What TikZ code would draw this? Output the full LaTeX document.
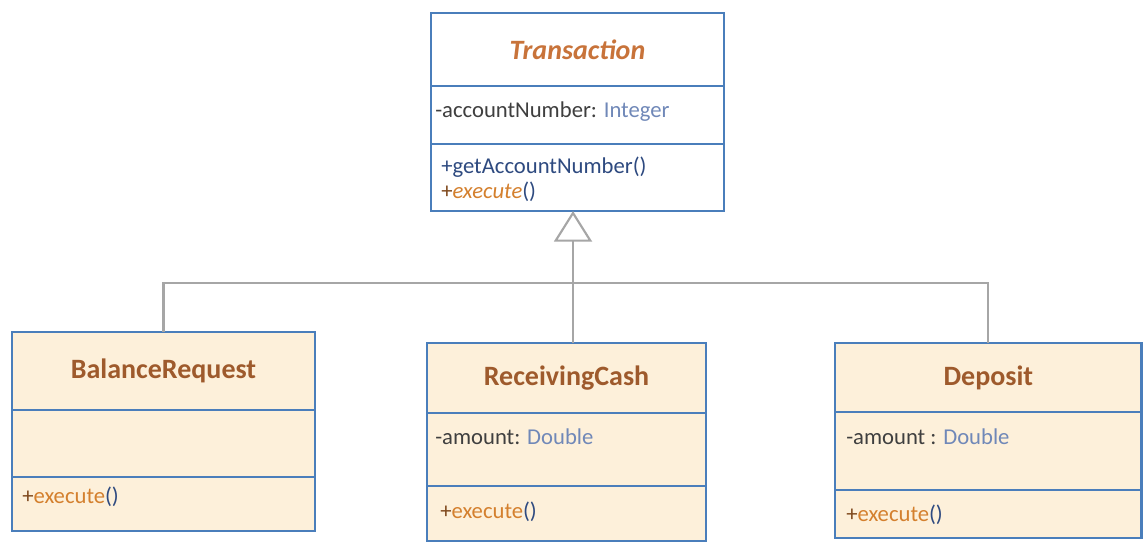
\documentclass[tikz,border=0pt]{standalone}
\usepackage{fontspec}
\setmainfont{Carlito}
\usetikzlibrary{positioning,calc,arrows.meta}
\definecolor{umlblue}{HTML}{4A7EBB}
\definecolor{classfill}{HTML}{FDF0DA}
\definecolor{namebrown}{HTML}{9E5A2C}
\definecolor{abstractorange}{HTML}{C8733A}
\definecolor{membergray}{HTML}{3F3F3F}
\definecolor{typeblue}{HTML}{7088B8}
\definecolor{methodblue}{HTML}{2E4A80}
\definecolor{execorange}{HTML}{D4802E}
\definecolor{plusbrown}{HTML}{804A1E}
\definecolor{genegray}{HTML}{A6A6A6}
\tikzset{
  compartment/.style={rectangle,draw=umlblue,line width=1.8pt,fill=classfill,anchor=north,inner sep=0,outer sep=0},
  clsname/.style={compartment,font=\fontsize{21}{24}\selectfont\bfseries,text=namebrown},
  member/.style={anchor=west,inner sep=0,font=\fontsize{17}{20}\selectfont,text=membergray},
  gen/.style={draw=genegray,line width=1.6pt},
  % open triangle for generalization
  genarrow/.style={gen,-{Triangle[open,length=23pt,width=28.5pt,fill=white]}},
}
\newcommand{\execop}[1]{{\color{plusbrown}+}{\color{execorange}#1}{\color{methodblue}()}}
\begin{document}
\begin{tikzpicture}[x=0.75pt,y=0.75pt]
  \useasboundingbox (0,0) rectangle (1144,-543);
  % abstract base class
  \node[clsname,fill=white,anchor=north west,minimum width=219.75pt,minimum height=54.75pt,text=abstractorange]
    (tx-name) at (431,-13) {\itshape Transaction};
  \node[compartment,fill=white,minimum width=219.75pt,minimum height=43.5pt] (tx-attr) at (tx-name.south) {};
  \node[compartment,fill=white,minimum width=219.75pt,minimum height=50.25pt] (tx-ops) at (tx-attr.south) {};
  \node[member] (tx-acct) at (435,-112) {-accountNumber: {\color{typeblue}Integer}};
  \node[member,text=methodblue] (tx-get) at (441,-167) {+getAccountNumber()};
  \node[member] (tx-exec) at (441,-192) {{\color{plusbrown}+}{\color{execorange}\itshape execute}{\color{methodblue}()}};
  % BalanceRequest
  \node[clsname,anchor=north west,minimum width=227.25pt,minimum height=58.5pt] (br-name) at (12,-332) {BalanceRequest};
  \node[compartment,minimum width=227.25pt,minimum height=50.25pt] (br-attr) at (br-name.south) {};
  \node[compartment,minimum width=227.25pt,minimum height=40.5pt] (br-ops) at (br-attr.south) {};
  \node[member] (br-exec) at (22,-497) {\execop{execute}};
  % ReceivingCash
  \node[clsname,anchor=north west,minimum width=209.25pt,minimum height=52.5pt] (rc-name) at (427,-343) {ReceivingCash};
  \node[compartment,minimum width=209.25pt,minimum height=54.75pt] (rc-attr) at (rc-name.south) {};
  \node[compartment,minimum width=209.25pt,minimum height=41.25pt] (rc-ops) at (rc-attr.south) {};
  \node[member] (rc-amount) at (435,-437) {-amount: {\color{typeblue}Double}};
  \node[member] (rc-exec) at (440,-512) {\execop{execute}};
  % Deposit
  \node[clsname,anchor=north west,minimum width=230pt,minimum height=51.75pt] (dp-name) at (835,-343) {Deposit};
  \node[compartment,minimum width=230pt,minimum height=58.5pt] (dp-attr) at (dp-name.south) {};
  \node[compartment,minimum width=230pt,minimum height=36pt] (dp-ops) at (dp-attr.south) {};
  \node[member] (dp-amount) at (846,-437) {-amount : {\color{typeblue}Double}};
  \node[member] (dp-exec) at (846,-515) {\execop{execute}};
  % generalization tree
  \coordinate (hub) at (573,-283);
  \draw[gen] (br-name.north) |- (hub) -| (dp-name.north);
  \draw[genarrow] (rc-name.north -| hub) -- (hub |- tx-ops.south);
\end{tikzpicture}
\end{document}
